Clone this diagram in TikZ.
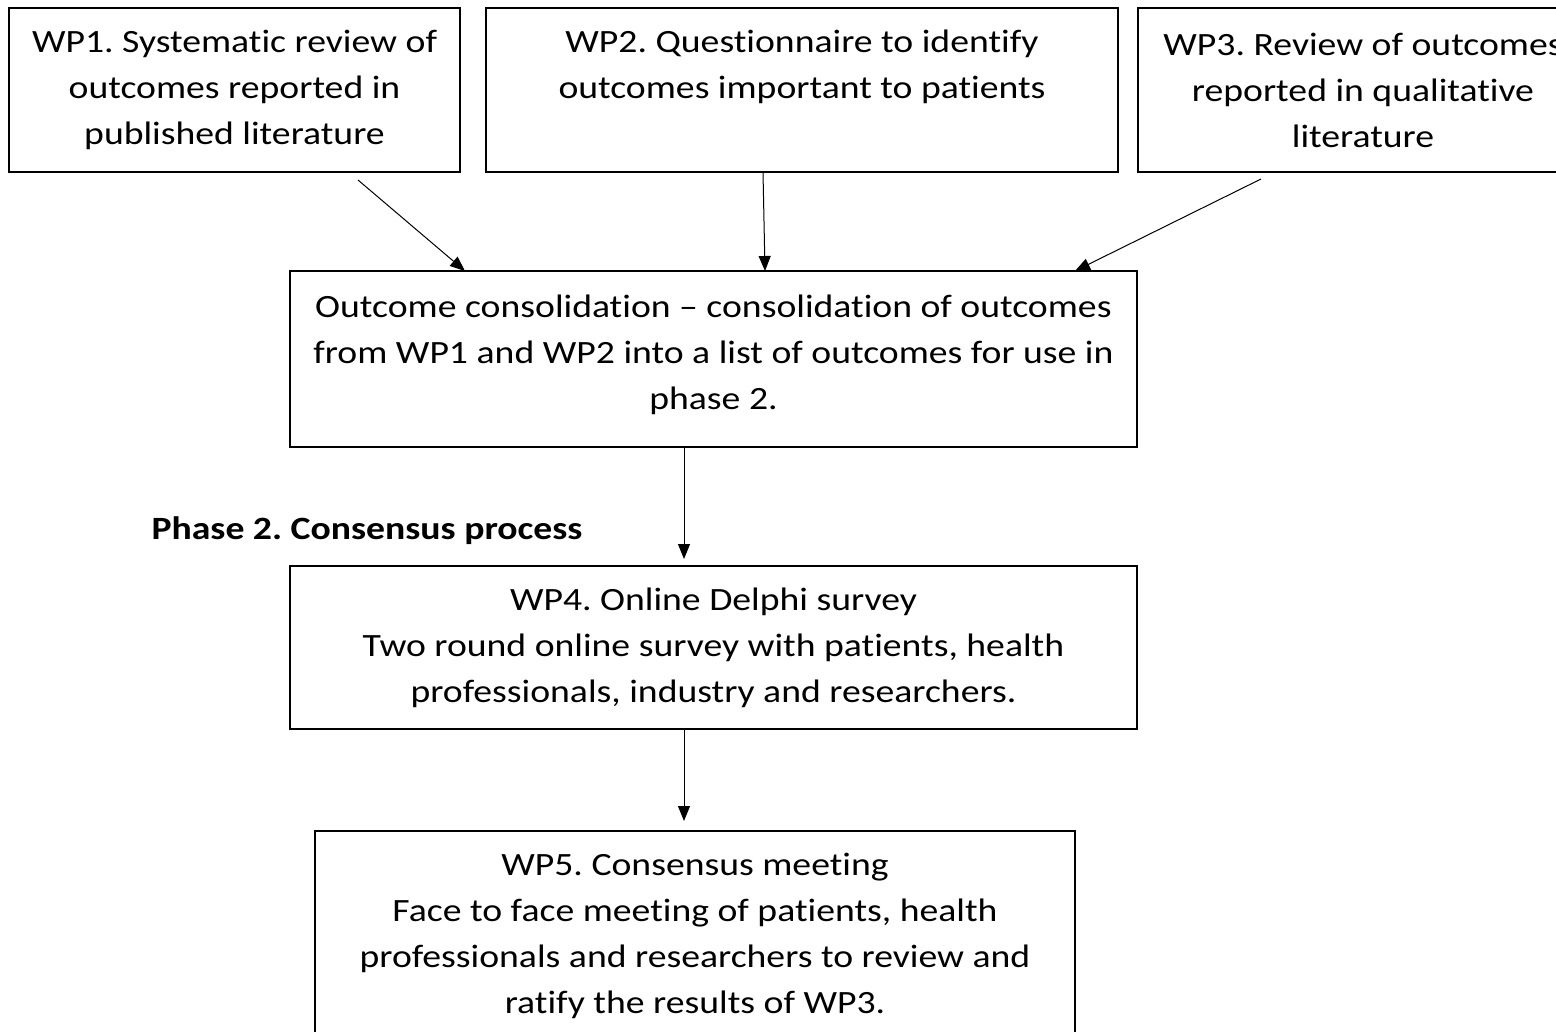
\documentclass[tikz,border=0pt]{standalone}
\usepackage{fontspec}
\setmainfont{Carlito}[Ligatures=NoCommon,FakeStretch=1.16]
\usetikzlibrary{arrows.meta}
\frenchspacing

\begin{document}
\begin{tikzpicture}[x=1pt,y=-1pt,
	wpbox/.style={draw,line width=1.3pt,align=center,inner sep=0pt,outer sep=0pt,
		font=\fontsize{32.5}{46}\selectfont},
	flow/.style={line width=1pt,-{Triangle[length=15pt,width=12pt]}}]
	\useasboundingbox (0,0) rectangle (1556,1032);
	\node [wpbox,minimum width=451pt,minimum height=164pt] (wp1) at (234.5,90) {WP1. Systematic review of\\outcomes reported in\\published literature};
	\node [wpbox,minimum width=632pt,minimum height=164pt] (wp2) at (802,90) {WP2. Questionnaire to identify\\outcomes important to patients\rule[-52pt]{0pt}{0pt}};
	\node [wpbox,minimum width=450pt,minimum height=164pt] (wp3) at (1363,90) {WP3. Review of outcomes\\reported in qualitative\\literature};
	\node [wpbox,minimum width=847pt,minimum height=176pt] (cons) at (713.5,359) {Outcome consolidation – consolidation of outcomes\\from WP1 and WP2 into a list of outcomes for use in\\phase 2.\rule[-14.5pt]{0pt}{0pt}};
	\node [anchor=west,font=\fontsize{32.5}{46}\selectfont\bfseries] (phase2) at (148,531) {Phase 2. Consensus process};
	\node [wpbox,minimum width=847pt,minimum height=163pt] (wp4) at (713.5,647.5) {WP4. Online Delphi survey\\Two round online survey with patients, health\\professionals, industry and researchers.};
	\node [wpbox,minimum width=760pt,minimum height=210pt] (wp5) at (695,936) {WP5. Consensus meeting\\Face to face meeting of patients, health\\professionals and researchers to review and\\ratify the results of WP3.};
	\draw [flow] ([xshift=123.5pt,yshift=-8pt]wp1.south) -- ([xshift=-248.5pt]cons.north);
	\draw [flow] ([xshift=-39pt]wp2.south) -- ([xshift=51.5pt]cons.north);
	\draw [flow] ([xshift=-102pt,yshift=-7pt]wp3.south) -- ([xshift=361.5pt]cons.north);
	\draw [flow] ([xshift=-29.5pt]cons.south) -- ([xshift=-29.5pt,yshift=7pt]wp4.north);
	\draw [flow] ([xshift=-29.5pt]wp4.south) -- ([xshift=-11pt,yshift=10pt]wp5.north);
\end{tikzpicture}
\end{document}
